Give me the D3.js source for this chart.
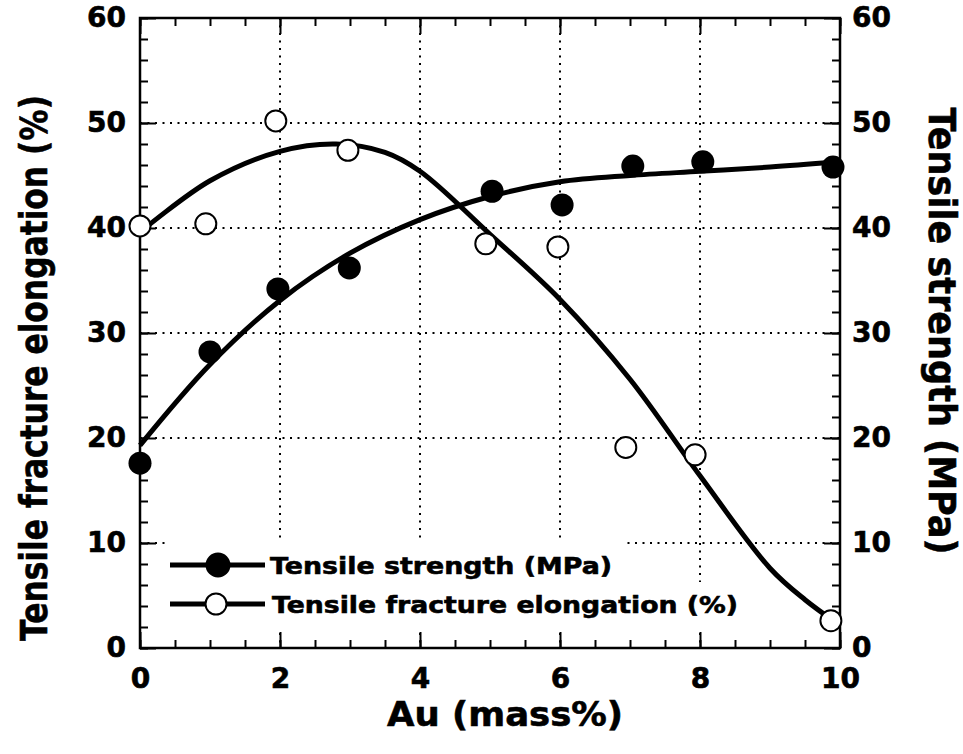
<!DOCTYPE html>
<html>
<head>
<meta charset="utf-8">
<script src="https://cdn.jsdelivr.net/npm/d3@7"></script>
<style>
  body { margin: 0; background: #fff; }
  svg text { font-family: "DejaVu Sans", sans-serif; font-weight: bold; fill: #000; stroke: #000; stroke-width: 0.6px; }
</style>
</head>
<body>
<div id="chart"></div>
<script>
var width = 963;
var height = 754;

// measured points (Au mass%)
var auStrength = [0, 1.0, 1.97, 2.99, 5.03, 6.03, 7.04, 8.04, 9.9];
var strength = [17.6, 28.2, 34.2, 36.2, 43.5, 42.2, 45.9, 46.3, 45.8];
var auElong = [0, 0.94, 1.94, 2.97, 4.94, 5.97, 6.94, 7.93, 9.87];
var elong = [40.2, 40.4, 50.2, 47.4, 38.5, 38.2, 19.1, 18.4, 2.6];

// fitted curves
var strengthFitX = [0, 1, 2, 3, 4, 5, 6, 7, 8, 9, 9.95];
var strengthFit = [19.3, 27.0, 33.1, 37.6, 40.8, 43.0, 44.4, 45.0, 45.4, 45.8, 46.3];
var elongFitX = [0, 1, 2, 2.8, 3.5, 4, 5, 6, 7, 8, 9, 9.5, 9.95];
var elongFit = [39.6, 44.5, 47.3, 48.0, 47.2, 45.4, 39.4, 33.2, 25.6, 16.4, 7.6, 4.6, 2.4];

var xTicks = [0, 2, 4, 6, 8, 10];
var yTicks = [0, 10, 20, 30, 40, 50, 60];
var xGrid = [2, 4, 6, 8];
var yGrid = [10, 20, 30, 40, 50];

var legendLabels = ["Tensile strength (MPa)", "Tensile fracture elongation (%)"];
var xTitle = "Au (mass%)";
var yLeftTitle = "Tensile fracture elongation (%)";
var yRightTitle = "Tensile strength (MPa)";

var pLeft = 140, pRight = 840, pTop = 18, pBottom = 648;

var xScale = d3.scaleLinear().domain([0, 10]).range([pLeft, pRight]);
var yScale = d3.scaleLinear().domain([0, 60]).range([pBottom, pTop]);

var svg = d3.select("#chart").append("svg")
    .attr("width", width)
    .attr("height", height);

// grid
svg.append("g").selectAll("line").data(xGrid).enter().append("line")
    .attr("x1", function(d) { return xScale(d); })
    .attr("x2", function(d) { return xScale(d); })
    .attr("y1", pTop).attr("y2", pBottom)
    .attr("stroke", "#000").attr("stroke-width", 2)
    .attr("stroke-dasharray", "2,5.5");
svg.append("g").selectAll("line").data(yGrid).enter().append("line")
    .attr("y1", function(d) { return yScale(d); })
    .attr("y2", function(d) { return yScale(d); })
    .attr("x1", pLeft).attr("x2", pRight)
    .attr("stroke", "#000").attr("stroke-width", 2)
    .attr("stroke-dasharray", "2,5.5");

// axes, ticks pointing inward
function styleAxis(g) {
  g.select(".domain").remove();
  g.selectAll(".tick line").attr("stroke", "#000").attr("stroke-width", 2);
  g.selectAll("text").style("font-size", "28px");
}

var xMinor = d3.range(0, 10.01, 0.5);
var yMinor = d3.range(0, 60.01, 2);

svg.append("g").attr("transform", "translate(0," + pBottom + ")")
    .call(d3.axisBottom(xScale).tickValues(xMinor).tickSize(-8).tickFormat(""))
    .call(styleAxis);
svg.append("g").attr("transform", "translate(0," + pBottom + ")")
    .call(d3.axisBottom(xScale).tickValues(xTicks).tickSize(-16).tickPadding(20))
    .call(styleAxis);
svg.append("g").attr("transform", "translate(0," + pTop + ")")
    .call(d3.axisTop(xScale).tickValues(xMinor).tickSize(-8).tickFormat(""))
    .call(styleAxis);
svg.append("g").attr("transform", "translate(0," + pTop + ")")
    .call(d3.axisTop(xScale).tickValues(xTicks).tickSize(-16).tickFormat(""))
    .call(styleAxis);

svg.append("g").attr("transform", "translate(" + pLeft + ",0)")
    .call(d3.axisLeft(yScale).tickValues(yMinor).tickSize(-8).tickFormat(""))
    .call(styleAxis);
svg.append("g").attr("transform", "translate(" + pLeft + ",0)")
    .call(d3.axisLeft(yScale).tickValues(yTicks).tickSize(-16).tickPadding(14))
    .call(styleAxis);
svg.append("g").attr("transform", "translate(" + pRight + ",0)")
    .call(d3.axisRight(yScale).tickValues(yMinor).tickSize(-8).tickFormat(""))
    .call(styleAxis);
svg.append("g").attr("transform", "translate(" + pRight + ",0)")
    .call(d3.axisRight(yScale).tickValues(yTicks).tickSize(-16).tickPadding(12))
    .call(styleAxis);

// frame
svg.append("rect")
    .attr("x", pLeft).attr("y", pTop)
    .attr("width", pRight - pLeft).attr("height", pBottom - pTop)
    .attr("fill", "none").attr("stroke", "#000").attr("stroke-width", 2.5);

// legend backgrounds hide grid
svg.append("rect").attr("x", 165).attr("y", 540).attr("width", 457).attr("height", 44).attr("fill", "#fff");
svg.append("rect").attr("x", 165).attr("y", 582).attr("width", 580).attr("height", 48).attr("fill", "#fff");

// fitted curves
var line = d3.line()
    .x(function(d) { return xScale(d[0]); })
    .y(function(d) { return yScale(d[1]); })
    .curve(d3.curveCatmullRom);

svg.append("path")
    .datum(strengthFitX.map(function(x, i) { return [x, strengthFit[i]]; }))
    .attr("d", line)
    .attr("fill", "none").attr("stroke", "#000").attr("stroke-width", 5);
svg.append("path")
    .datum(elongFitX.map(function(x, i) { return [x, elongFit[i]]; }))
    .attr("d", line)
    .attr("fill", "none").attr("stroke", "#000").attr("stroke-width", 5);

// markers
svg.append("g").selectAll("circle").data(auElong).enter().append("circle")
    .attr("cx", function(d) { return xScale(d); })
    .attr("cy", function(d, i) { return yScale(elong[i]); })
    .attr("r", 10.5)
    .attr("fill", "#fff").attr("stroke", "#000").attr("stroke-width", 2);
svg.append("g").selectAll("circle").data(auStrength).enter().append("circle")
    .attr("cx", function(d) { return xScale(d); })
    .attr("cy", function(d, i) { return yScale(strength[i]); })
    .attr("r", 11.5)
    .attr("fill", "#000");

// legend
var legendRows = [
  {y: 565, cx: 218, filled: true, textX: 270, len: 342},
  {y: 604, cx: 216, filled: false, textX: 272, len: 466}
];
legendRows.forEach(function(r, i) {
  svg.append("line")
      .attr("x1", 170).attr("x2", 265)
      .attr("y1", r.y).attr("y2", r.y)
      .attr("stroke", "#000").attr("stroke-width", 5);
  svg.append("circle")
      .attr("cx", r.cx).attr("cy", r.y)
      .attr("r", r.filled ? 11.5 : 10.5)
      .attr("fill", r.filled ? "#000" : "#fff")
      .attr("stroke", "#000").attr("stroke-width", 2);
  svg.append("text")
      .attr("x", r.textX).attr("y", r.y + 9)
      .attr("textLength", r.len)
      .attr("lengthAdjust", "spacingAndGlyphs")
      .style("font-size", "23px")
      .text(legendLabels[i]);
});

// axis titles
svg.append("text")
    .attr("x", 505).attr("y", 726)
    .attr("text-anchor", "middle")
    .attr("textLength", 236)
    .attr("lengthAdjust", "spacingAndGlyphs")
    .style("font-size", "34px")
    .text(xTitle);

svg.append("text")
    .attr("transform", "translate(47,368) rotate(-90)")
    .attr("text-anchor", "middle")
    .attr("textLength", 546)
    .attr("lengthAdjust", "spacingAndGlyphs")
    .style("font-size", "37px")
    .text(yLeftTitle);

svg.append("text")
    .attr("transform", "translate(929,331) rotate(90)")
    .attr("text-anchor", "middle")
    .attr("textLength", 447)
    .attr("lengthAdjust", "spacingAndGlyphs")
    .style("font-size", "37px")
    .text(yRightTitle);
</script>
</body>
</html>
